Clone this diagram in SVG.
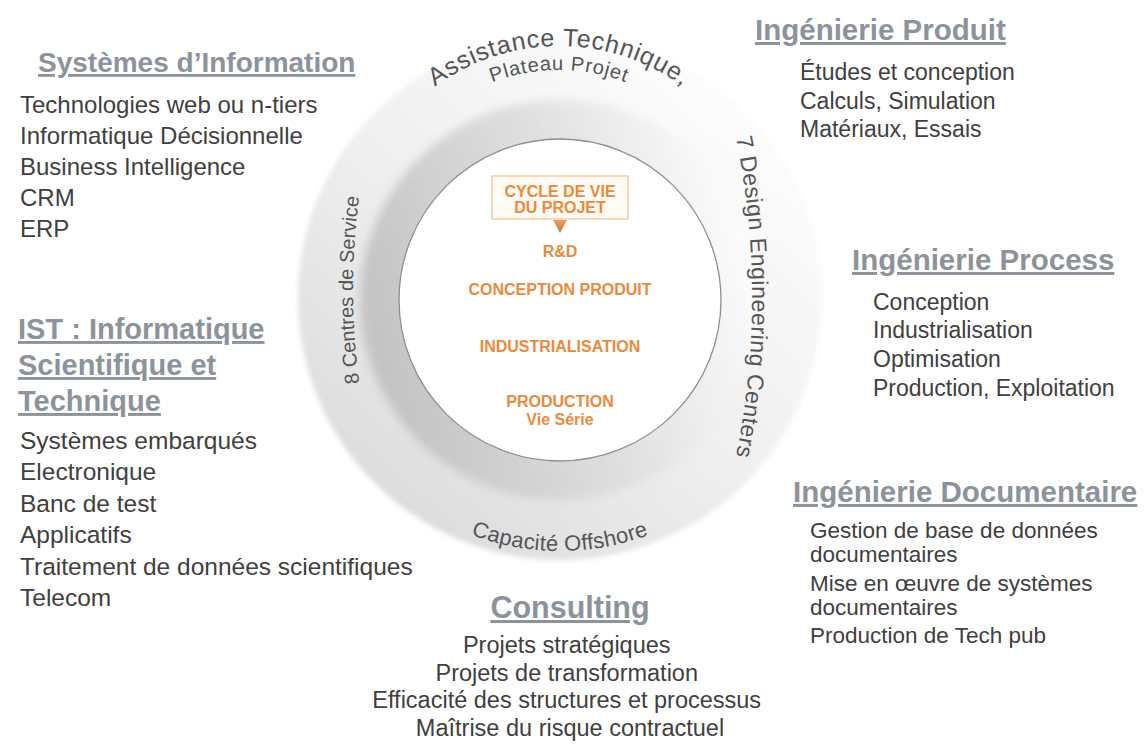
<svg xmlns="http://www.w3.org/2000/svg" width="1145" height="744" viewBox="0 0 1145 744">
<defs>
<linearGradient id="outerGrad" x1="0.85" y1="0.1" x2="0.15" y2="0.9">
<stop offset="0" stop-color="#fdfdfd"/>
<stop offset="0.5" stop-color="#f0f0f0"/>
<stop offset="1" stop-color="#dcdcdc"/>
</linearGradient>
<linearGradient id="bandGrad" x1="0.05" y1="0.6" x2="0.95" y2="0.35">
<stop offset="0" stop-color="#c4c4c4"/>
<stop offset="0.55" stop-color="#e0e0e0"/>
<stop offset="1" stop-color="#fbfbfb"/>
</linearGradient>
<linearGradient id="triGrad" x1="0" y1="0" x2="0" y2="1">
<stop offset="0" stop-color="#e9a06a"/>
<stop offset="1" stop-color="#c9763a"/>
</linearGradient>
<filter id="soft" x="-10%" y="-10%" width="120%" height="120%">
<feGaussianBlur stdDeviation="2.5"/>
</filter>
<filter id="soft2" x="-10%" y="-10%" width="120%" height="120%">
<feGaussianBlur stdDeviation="5"/>
</filter>
<path id="arcTop1" d="M 349 256 A 210 210 0 0 1 769 256"/>
<path id="arcTop2" d="M 373 256 A 186 186 0 0 1 745 256"/>
<path id="arcLeft" d="M 369.3 440 A 700 700 0 0 1 369.3 140"/>
<path id="arcRight" d="M 726.6 97 A 800 800 0 0 1 726.6 497"/>
<path id="arcBottom" d="M 309 300 A 251 251 0 0 0 811 300"/>
</defs>
<style>
.head{font-family:"Liberation Sans",Arial,sans-serif;font-weight:bold;fill:#8c939b;text-decoration:underline;}
.item{font-family:"Liberation Sans",Arial,sans-serif;fill:#404040;}
.arc{font-family:"Liberation Sans",Arial,sans-serif;fill:#555555;}
.ctr{font-family:"Liberation Sans",Arial,sans-serif;font-weight:bold;fill:#eb8a3c;text-anchor:middle;font-size:16px;}
</style>
<rect width="1145" height="744" fill="#ffffff"/>

<g id="ring">
<circle cx="560" cy="298" r="262" fill="url(#outerGrad)" filter="url(#soft)"/>
<circle cx="560" cy="300" r="200" fill="url(#bandGrad)" filter="url(#soft2)"/>
<circle cx="560" cy="300" r="161" fill="#ffffff" stroke="#8f8f8f" stroke-width="1.3"/>
<text class="arc" font-size="25" letter-spacing="0.8"><textPath href="#arcTop1" startOffset="50%" text-anchor="middle">Assistance Technique,</textPath></text>
<text class="arc" font-size="20" letter-spacing="0.8"><textPath href="#arcTop2" startOffset="50%" text-anchor="middle">Plateau Projet</textPath></text>
<text class="arc" font-size="20"><textPath href="#arcLeft" startOffset="50%" text-anchor="middle">8 Centres de Service</textPath></text>
<text class="arc" font-size="23" letter-spacing="0.5"><textPath href="#arcRight" startOffset="50%" text-anchor="middle">7 Design Engineering Centers</textPath></text>
<text class="arc" font-size="22" letter-spacing="0.3"><textPath href="#arcBottom" startOffset="50%" text-anchor="middle">Capacité Offshore</textPath></text>
</g>

<g id="node-cycle">
<rect x="492" y="176" width="136" height="43" fill="#fffaf4" stroke="#f2b27a" stroke-width="1"/>
<polygon points="553,220 567,220 560,233" fill="url(#triGrad)"/>
<text class="ctr" x="560" y="197" font-size="15.5">CYCLE DE VIE</text>
<text class="ctr" x="560" y="213" font-size="15.5">DU PROJET</text>
<text class="ctr" x="560" y="257">R&amp;D</text>
<text class="ctr" x="560" y="295">CONCEPTION PRODUIT</text>
<text class="ctr" x="560" y="352">INDUSTRIALISATION</text>
<text class="ctr" x="560" y="407">PRODUCTION</text>
<text class="ctr" x="560" y="425" font-size="15">Vie Série</text>
</g>

<g id="node-si">
<text class="head" x="38" y="72" font-size="28">Systèmes d’Information</text>
<text class="item" font-size="24">
<tspan x="20" y="113">Technologies web ou n-tiers</tspan>
<tspan x="20" y="144">Informatique Décisionnelle</tspan>
<tspan x="20" y="175">Business Intelligence</tspan>
<tspan x="20" y="206">CRM</tspan>
<tspan x="20" y="237">ERP</tspan>
</text>
</g>

<g id="node-ist">
<text class="head" x="18" y="339" font-size="29">IST : Informatique</text>
<text class="head" x="18" y="375" font-size="29">Scientifique et</text>
<text class="head" x="18" y="411" font-size="29">Technique</text>
<text class="item" font-size="24.5">
<tspan x="20" y="449">Systèmes embarqués</tspan>
<tspan x="20" y="480">Electronique</tspan>
<tspan x="20" y="512">Banc de test</tspan>
<tspan x="20" y="543">Applicatifs</tspan>
<tspan x="20" y="575">Traitement de données scientifiques</tspan>
<tspan x="20" y="606">Telecom</tspan>
</text>
</g>

<g id="node-produit">
<text class="head" x="755" y="40" font-size="29.5">Ingénierie Produit</text>
<text class="item" font-size="23">
<tspan x="800" y="80">Études et conception</tspan>
<tspan x="800" y="109">Calculs, Simulation</tspan>
<tspan x="800" y="137">Matériaux, Essais</tspan>
</text>
</g>

<g id="node-process">
<text class="head" x="852" y="270" font-size="29.5">Ingénierie Process</text>
<text class="item" font-size="23">
<tspan x="873" y="310">Conception</tspan>
<tspan x="873" y="338">Industrialisation</tspan>
<tspan x="873" y="367">Optimisation</tspan>
<tspan x="873" y="396">Production, Exploitation</tspan>
</text>
</g>

<g id="node-documentaire">
<text class="head" x="793" y="502" font-size="29.5">Ingénierie Documentaire</text>
<text class="item" font-size="22.5">
<tspan x="810" y="538">Gestion de base de données</tspan>
<tspan x="810" y="562">documentaires</tspan>
<tspan x="810" y="591">Mise en œuvre de systèmes</tspan>
<tspan x="810" y="615">documentaires</tspan>
<tspan x="810" y="643">Production de Tech pub</tspan>
</text>
</g>

<g id="node-consulting">
<text class="head" x="570" y="618" font-size="30.5" text-anchor="middle">Consulting</text>
<text class="item" font-size="23.5" text-anchor="middle">
<tspan x="570" y="653">Projets stratégiques</tspan>
<tspan x="570" y="681">Projets de transformation</tspan>
<tspan x="570" y="708">Efficacité des structures et processus</tspan>
<tspan x="570" y="736">Maîtrise du risque contractuel</tspan>
</text>
</g>

<g id="connectors"/>
</svg>
